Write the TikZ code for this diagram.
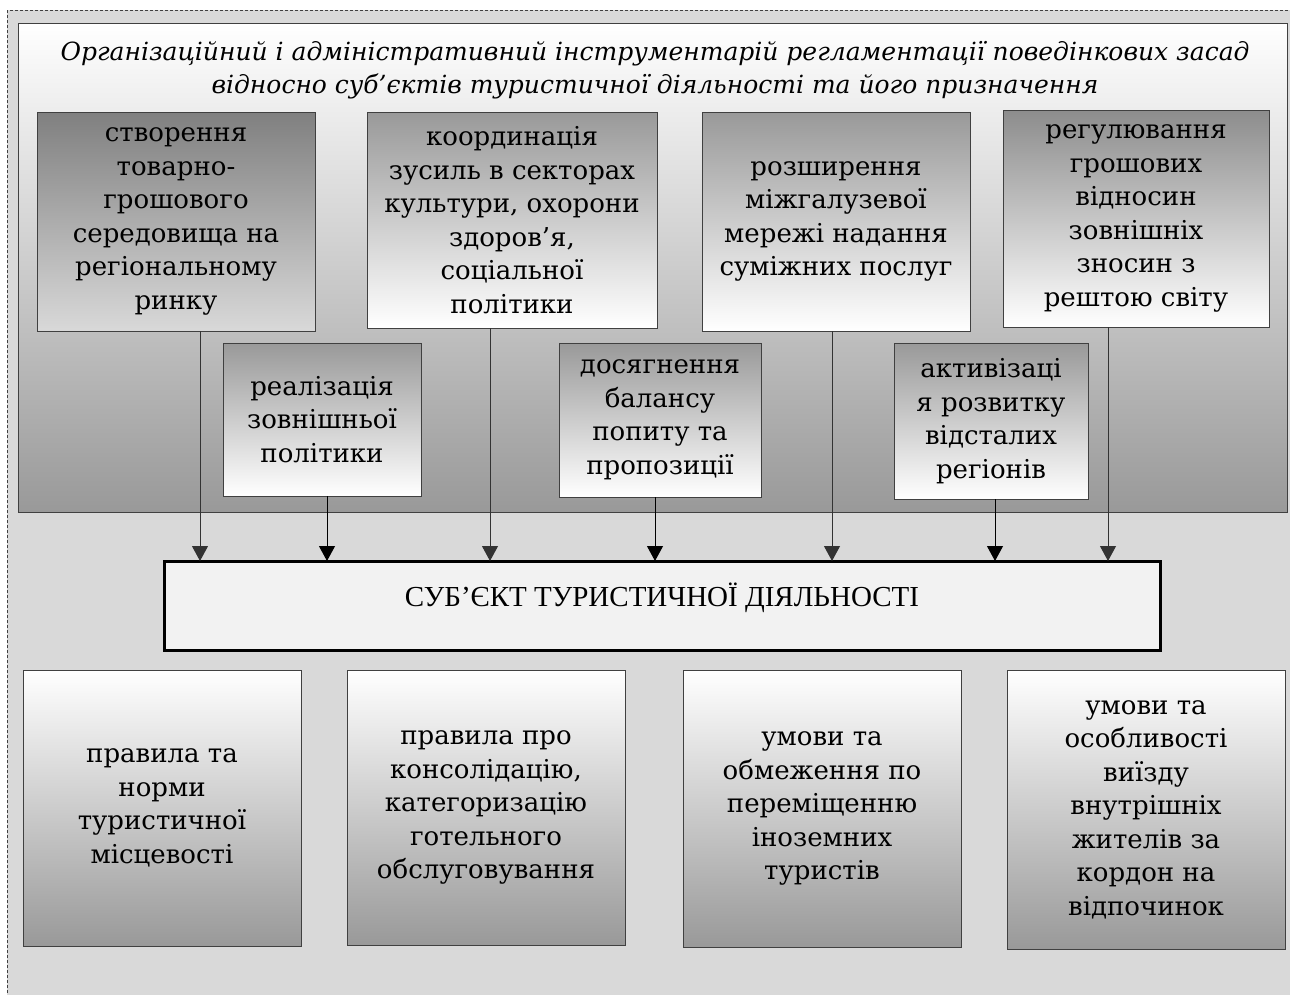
\documentclass[tikz,border=0pt]{standalone}
\usepackage{fontspec}
\setmainfont{DejaVu Serif}
\newfontfamily\subjfont{Liberation Serif}
\usepackage{tikz}
\usetikzlibrary{arrows.meta,positioning}
\definecolor{pagegray}{HTML}{D9D9D9}
\definecolor{framegray}{HTML}{404040}
\definecolor{subjfill}{HTML}{F2F2F2}

\begin{document}
\begin{tikzpicture}[x=1pt, y=-1pt, inner sep=0pt, outer sep=0pt,
  box/.style={draw=framegray, line width=1pt, align=center, font=\fontsize{26}{33.5}\selectfont},
  darktop/.style={box, top color=gray!80, bottom color=white},
  lighttop/.style={box, top color=white, bottom color=gray!80},
  arr/.style={-{Triangle[width=16pt,length=15pt]}, line width=1pt}]
\useasboundingbox (0,0) rectangle (1290,994);
\clip (0,0) rectangle (1290,994);
% page and frame
\draw[draw=framegray, fill=pagegray, dash pattern=on 3pt off 2pt] (7,10) rectangle (1310,1010);
\node[draw=framegray, line width=1pt, top color=white, bottom color=gray!80,
  minimum width=1269pt, minimum height=489pt] (F) at (652.5,267.5) {};
\node[font=\itshape\fontsize{25}{33}\selectfont, align=center] (X) at (655,70)
  {Організаційний і адміністративний інструментарій регламентації поведінкових засад\\
   відносно суб’єктів туристичної діяльності та його призначення};
% upper row
\node[box, top color=gray, bottom color=gray!30, minimum width=278pt, minimum height=219pt] (T1) at (176,221.5)
  {створення\\товарно-\\грошового\\середовища на\\регіональному\\ринку};
\node[darktop, minimum width=290pt, minimum height=216pt] (T2) at (512,220)
  {координація\\зусиль в секторах\\культури, охорони\\здоров’я,\\соціальної\\політики};
\node[darktop, minimum width=268pt, minimum height=219pt] (T3) at (836,221.5)
  {розширення\\міжгалузевої\\мережі надання\\суміжних послуг};
\node[darktop, top color=gray!90, minimum width=266pt, minimum height=217pt] (T4) at (1136,218.5)
  {регулювання\\грошових\\відносин\\зовнішніх\\зносин з\\рештою світу};
% middle row
\node[darktop, minimum width=198pt, minimum height=153pt] (M1) at (322,419.5)
  {реалізація\\зовнішньої\\політики};
\node[darktop, minimum width=202pt, minimum height=154pt] (M2) at (660,420)
  {досягнення\\балансу\\попиту та\\пропозиції};
\node[darktop, minimum width=194pt, minimum height=156pt] (M3) at (991,421)
  {активізаці\\я розвитку\\відсталих\\регіонів};
% subject
\node[draw=black, line width=3pt, fill=subjfill, minimum width=996pt, minimum height=89pt] (S) at (662,605.5)
  {\raisebox{8pt}[\height][\depth]{\subjfont\fontsize{29}{34}\selectfont СУБ’ЄКТ ТУРИСТИЧНОЇ ДІЯЛЬНОСТІ}};
% lower row
\node[lighttop, minimum width=278pt, minimum height=276pt] (B1) at (162,808)
  {правила та\\норми\\туристичної\\місцевості};
\node[lighttop, minimum width=278pt, minimum height=275pt] (B2) at (486,807.5)
  {правила про\\консолідацію,\\категоризацію\\готельного\\обслуговування};
\node[lighttop, minimum width=278pt, minimum height=277pt] (B3) at (822,808.5)
  {умови та\\обмеження по\\переміщенню\\іноземних\\туристів};
\node[lighttop, minimum width=278pt, minimum height=279pt] (B4) at (1146,809.5)
  {умови та\\особливості\\виїзду\\внутрішніх\\жителів за\\кордон на\\відпочинок};
% arrows
\draw[arr, draw=gray!40!black] ([xshift=24pt]T1.south) -- ([xshift=24pt]T1.south |- S.north);
\draw[arr] ([xshift=5pt]M1.south) -- ([xshift=5pt]M1.south |- S.north);
\draw[arr, draw=gray!40!black] ([xshift=-22pt]T2.south) -- ([xshift=-22pt]T2.south |- S.north);
\draw[arr] ([xshift=-5pt]M2.south) -- ([xshift=-5pt]M2.south |- S.north);
\draw[arr, draw=gray!40!black] ([xshift=-4pt]T3.south) -- ([xshift=-4pt]T3.south |- S.north);
\draw[arr] ([xshift=4pt]M3.south) -- ([xshift=4pt]M3.south |- S.north);
\draw[arr, draw=gray!40!black] ([xshift=-28pt]T4.south) -- ([xshift=-28pt]T4.south |- S.north);
\end{tikzpicture}
\end{document}
